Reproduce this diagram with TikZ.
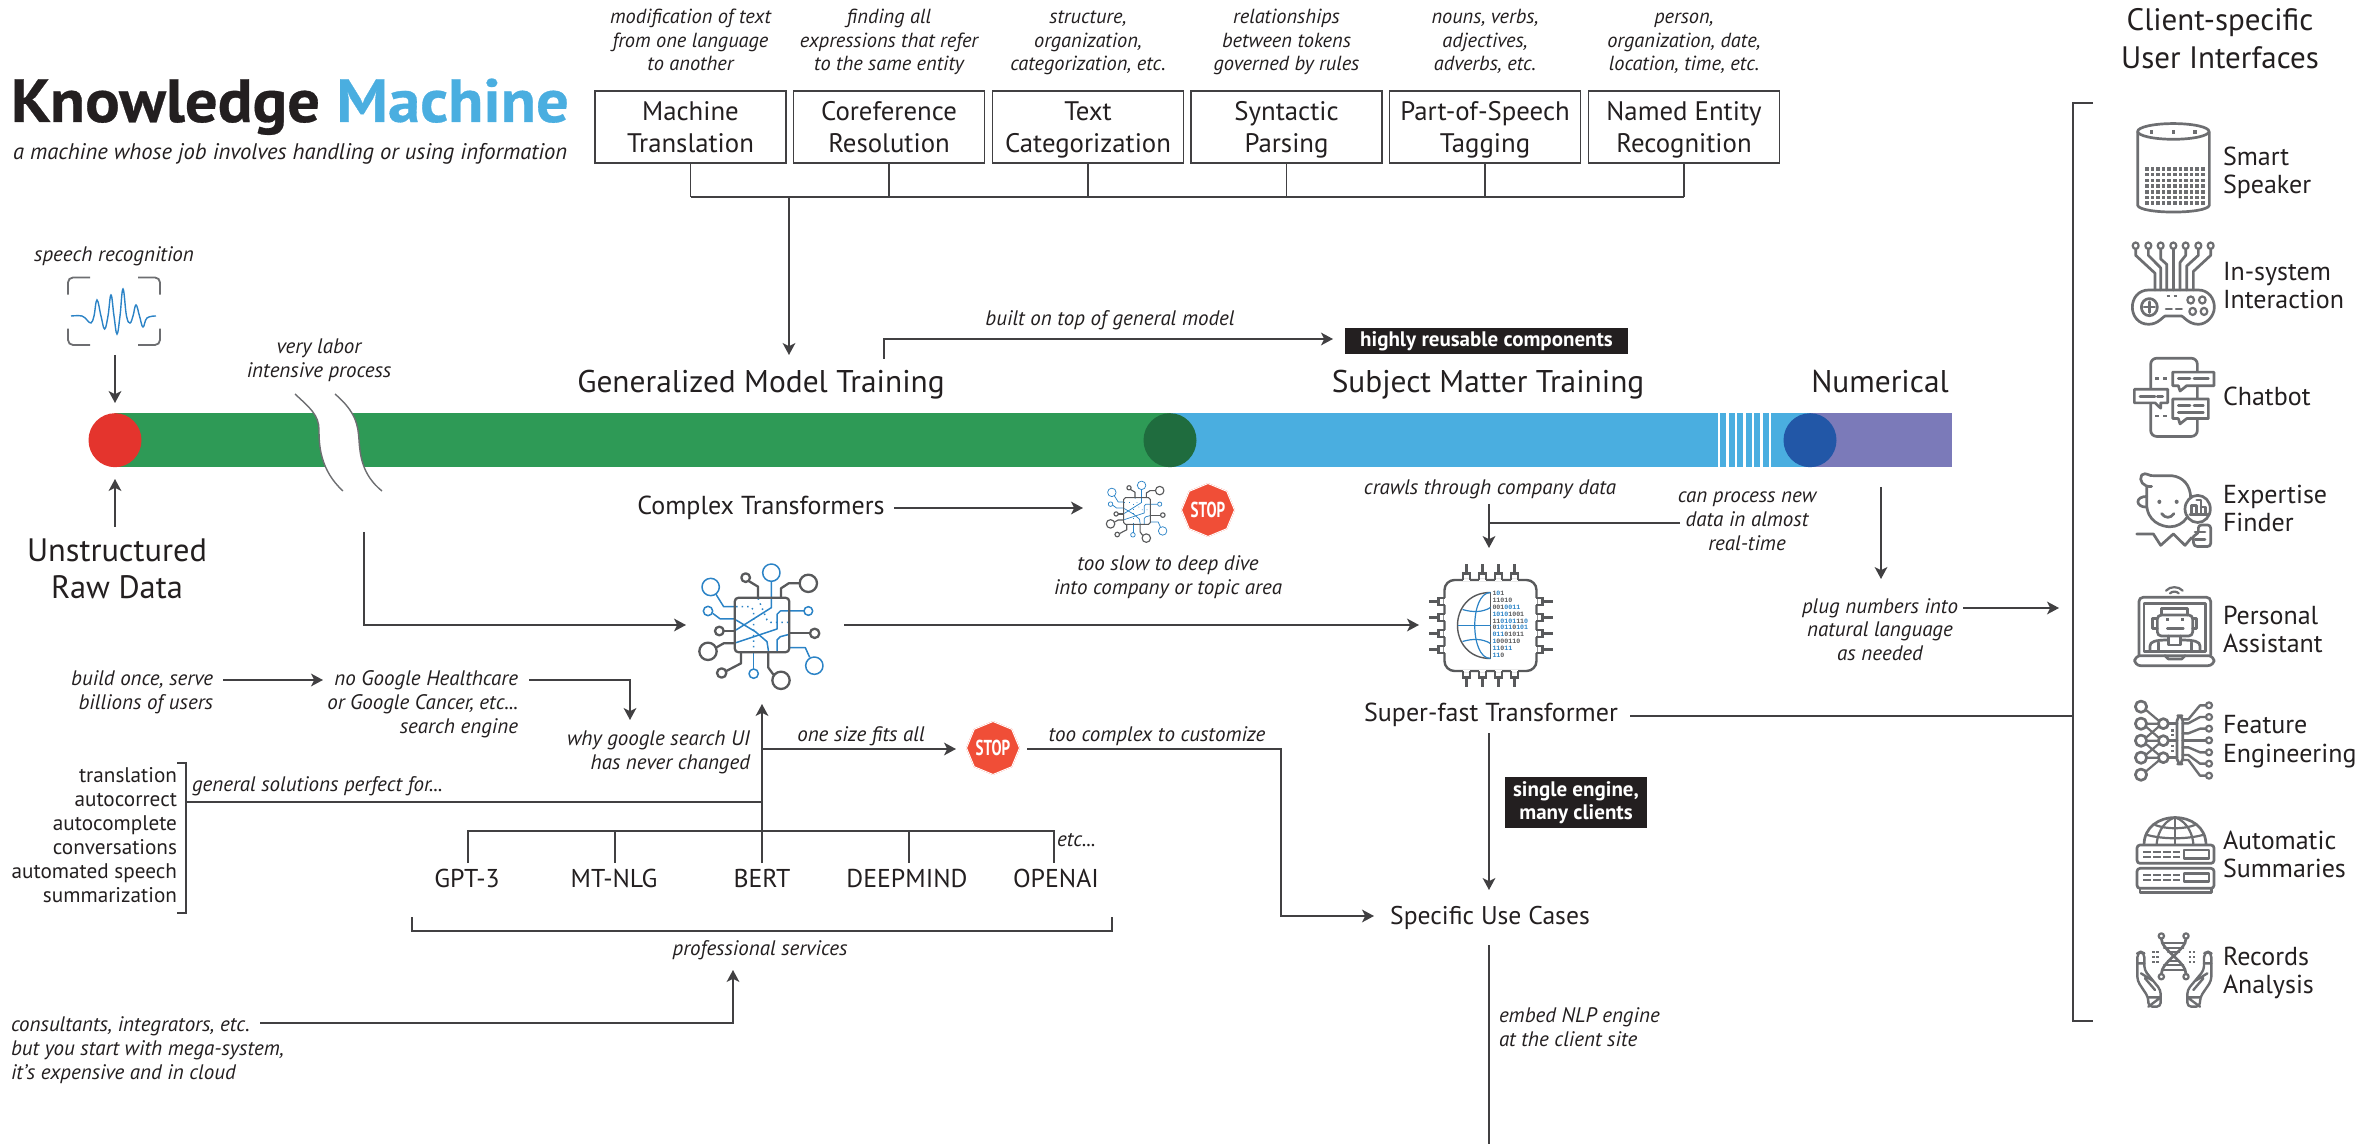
\documentclass[tikz,border=0pt]{standalone}
\usepackage{fontspec}
\usetikzlibrary{arrows.meta,shapes.geometric}
\setmainfont{PT Sans}
\newfontfamily\binfont{Liberation Mono}[BoldFont=* Bold]
\newfontfamily\titlef{PT Sans Bold}[FakeBold=0.5,FakeStretch=1.06]
\newcommand{\bs}{\rule[-2pt]{0pt}{14pt}}
\definecolor{ink}{HTML}{231F20}
\definecolor{linec}{HTML}{414042}
\definecolor{icong}{HTML}{6D6E71}
\definecolor{chipg}{HTML}{58595B}
\definecolor{iconb}{HTML}{2B83C6}
\definecolor{grn}{HTML}{2E9A56}
\definecolor{dgrn}{HTML}{1F6C3E}
\definecolor{sky}{HTML}{4AAEE0}
\definecolor{purp}{HTML}{7B7AB9}
\definecolor{redc}{HTML}{E4342D}
\definecolor{dblue}{HTML}{2257A7}
\definecolor{stopr}{HTML}{F04E37}
\tikzset{
 txt/.style={inner sep=0pt,outer sep=0pt,anchor=base,align=center,text=ink},
 captxt/.style={txt,font=\itshape\fontsize{10.5}{12}\selectfont},
 toptxt/.style={txt,font=\itshape\fontsize{10.2}{11.8}\selectfont},
 capr/.style={captxt,anchor=base east,align=right},
 capl/.style={captxt,anchor=base west,align=left},
 headtxt/.style={txt,font=\fontsize{15.7}{18}\selectfont},
 subtxt/.style={txt,font=\fontsize{16.2}{19}\selectfont},
 modeltxt/.style={txt,font=\fontsize{12.9}{14}\selectfont},
 lst/.style={txt,font=\fontsize{10.6}{12}\selectfont,anchor=base east,align=right},
 uilab/.style={txt,font=\fontsize{13}{14}\selectfont,anchor=base west,align=left},
 topbox/.style={draw=linec,line width=.7pt,minimum width=95.5pt,minimum height=36pt,inner sep=0pt,align=center,text=ink,font=\fontsize{13.4}{16}\selectfont},
 blackbox/.style={fill=ink,text=white,inner sep=0pt,align=center,font=\bfseries\fontsize{10.5}{11.8}\selectfont},
 conn/.style={draw=linec,line width=.75pt},
 arr/.style={conn,-{Stealth[length=6pt,width=6.4pt,inset=1.6pt]}},
 ic/.style={draw=icong,line width=1.35pt,line join=round,line cap=round},
 chipgl/.style={draw=chipg,line join=round},
 chipbl/.style={draw=iconb,line join=round},
 stopo/.style={regular polygon,regular polygon sides=8,shape border rotate=22.5,fill=stopr,minimum size=27pt,inner sep=0pt},
 stopi/.style={regular polygon,regular polygon sides=8,shape border rotate=22.5,draw=white,line width=.5pt,minimum size=25pt,inner sep=0pt,text=white,font=\bfseries\fontsize{9.4}{10}\selectfont},
}
% chip icon drawn in the 3x crop's coordinates about its centre
\newcommand{\chipicon}[3]{%
\begin{scope}[shift={(#1,#2)},x=#3*0.16667pt,y=-#3*0.16667pt,shift={(-310,-250)}]
 \begin{scope}[chipbl,line width=#3*0.75pt]
  \draw (338,93) circle (26); \draw (338,119)--(338,198)--(232,265);
  \draw (156,136) circle (26); \draw (172,158)--(195,195)--(228,195);
  \draw (148,208) circle (14); \draw (162,215)--(185,232)--(228,232);
  \draw (449,208) circle (13); \draw (436,208)--(365,208)--(355,218)--(355,262)--(232,303);
  \draw (467,372) circle (26); \draw (453,347)--(440,318)--(392,318);
  \draw (285,396) circle (14); \draw (285,382)--(285,332);
  \draw (232,235)--(290,270)--(325,300)--(330,332);
  \draw (355,332)--(355,295)--(365,285)--(392,278);
  \draw[dotted] (232,195)--(275,195)--(285,205)--(285,332);
  \draw[dotted] (298,170)--(325,235)--(335,242)--(388,242);
 \end{scope}
 \begin{scope}[chipgl,line width=#3*1.15pt]
  \draw[rounded corners=#3*2pt] (228,168) rectangle (392,332);
  \draw (261,108) circle (13); \draw (270,118)--(298,135)--(298,168);
  \draw (449,125) circle (26); \draw (423,125)--(390,125)--(367,140)--(367,168);
  \draw (182,268) circle (13); \draw (195,268)--(228,268);
  \draw (148,329) circle (26); \draw (172,318)--(195,305)--(228,305);
  \draw (468,275) circle (14); \draw (392,275)--(454,275);
  \draw (189,394) circle (14); \draw (203,388)--(247,365)--(247,332);
  \draw (367,416) circle (26); \draw (345,400)--(329,378)--(329,332);
 \end{scope}
\end{scope}}
\begin{document}
\begin{tikzpicture}[x=0.5pt,y=-0.5pt]
\useasboundingbox (0,0) rectangle (2379,1144);

% title
\node[txt,anchor=base west,font=\titlef\fontsize{30.5}{32}\selectfont] (title) at (11,122) {Knowledge \textcolor{sky}{Machine}};
\node[captxt,anchor=base west,font=\itshape\fontsize{11.3}{12}\selectfont] (subtitle) at (13,160) {a machine whose job involves handling or using information};

% top boxes
\node[topbox] (b1) at (690.5,127) {\bs Machine\\\bs Translation};
\node[topbox] (b2) at (889,127) {\bs Coreference\\\bs Resolution};
\node[topbox] (b3) at (1088,127) {\bs Text\\\bs Categorization};
\node[topbox] (b4) at (1286.5,127) {\bs Syntactic\\\bs Parsing};
\node[topbox] (b5) at (1485,127) {\bs Part-of-Speech\\\bs Tagging};
\node[topbox] (b6) at (1684,127) {\bs Named Entity\\\bs Recognition};
\node[toptxt] (c1) at (690.5,71) {modification of text\\from one language\\to another};
\node[toptxt] (c2) at (889,71) {finding all\\expressions that refer\\to the same entity};
\node[toptxt] (c3) at (1088,71) {structure,\\organization,\\categorization, etc.};
\node[toptxt] (c4) at (1286.5,71) {relationships\\between tokens\\governed by rules};
\node[toptxt] (c5) at (1485,71) {nouns, verbs,\\adjectives,\\adverbs, etc.};
\node[toptxt] (c6) at (1684,71) {person,\\organization, date,\\location, time, etc.};
\coordinate (busl) at (690.5,197);
\coordinate (busr) at (1684,197);
\draw[conn] (busl)--(busr);
\foreach \n in {b1,b2,b3,b4,b5,b6} \draw[conn] (\n.south)--(\n.south |- busl);
\coordinate (busa) at (789,197);
\coordinate (gmtop) at (789,355);
\draw[arr] (busa)--(gmtop);

% bar
\fill[grn] (115,413.5) rectangle (1170,467);
\fill[sky] (1170,413.5) rectangle (1810,467);
\fill[purp] (1810,413.5) rectangle (1952,467);
\fill[white] (295,394) .. controls (310,408) and (319,415) .. (319,430) .. controls (319,445) and (320,470) .. (343,491) -- (382,491) .. controls (362,475) and (360,455) .. (359,440) .. controls (358,425) and (356,412) .. (335,394) -- cycle;
\draw[icong,line width=.7pt] (295,394) .. controls (310,408) and (319,415) .. (319,430) .. controls (319,445) and (320,470) .. (343,491);
\draw[icong,line width=.7pt] (335,394) .. controls (356,412) and (358,425) .. (359,440) .. controls (360,455) and (362,475) .. (382,491);
\foreach \x in {1719,1727.4,1736,1744.4,1753,1761.4,1770} \fill[white] (\x-1.3,413.5) rectangle (\x+1.3,467);
\fill[redc] (115,440.2) ellipse [x radius=26.5,y radius=27];
\fill[dgrn] (1170,440.2) ellipse [x radius=26.5,y radius=27];
\fill[dblue] (1810,440.2) ellipse [x radius=26.5,y radius=27];

% bar headings
\node[headtxt] (gmt) at (761,393) {Generalized Model Training};
\node[headtxt] (smt) at (1488,393) {Subject Matter Training};
\node[headtxt] (num) at (1880,393) {Numerical};
\node[captxt] (builton) at (1110,326) {built on top of general model};
\node[blackbox,minimum width=141.5pt,minimum height=13pt] (reuse) at (1486.5,341) {highly reusable components};
\coordinate (gs) at (884,359);
\coordinate (gk) at (884,339);
\coordinate (ge) at (1333,339);
\draw[arr] (gs)--(gk)--(ge);

% speech
\node[captxt] (speech) at (114,262) {speech recognition};
\begin{scope}[icong,line width=.9pt,rounded corners=2.5pt]
\draw (68,294.6)--(68,277.5)--(90,277.5);
\draw (138,277.5)--(160,277.5)--(160,294.6);
\draw (68,328.6)--(68,345)--(90,345);
\draw (138,345)--(160,345)--(160,328.6);
\end{scope}
\draw[iconb,line width=.7pt] plot[smooth,tension=.7] coordinates {(71,316)(82,316)(87,320)(91,323)(94,316)(97,300)(101,316)(104.6,329)(108,316)(111,295)(114,316)(117,334)(120,316)(123,289)(126.5,316)(130,323)(133,316)(136,305)(139.5,316)(143,327)(147,318)(156,316)};
\coordinate (sa) at (115,355);
\coordinate (sb) at (115,403);
\draw[arr] (sa)--(sb);
\node[subtxt] (raw) at (117,599) {Unstructured\\Raw Data};
\coordinate (ra) at (115,527);
\coordinate (rb) at (115,479);
\draw[arr] (ra)--(rb);
\node[captxt] (labor) at (319,378) {very labor\\intensive process};

% break line to chip
\chipicon{762}{625}{1}
\coordinate (bs) at (364,532);
\coordinate (bk) at (364,625);
\coordinate (be) at (686,625);
\draw[arr] (bs)--(bk)--(be);
\coordinate (cha) at (844,625);
\coordinate (chb) at (1419,625);
\draw[arr] (cha)--(chb);

% complex transformers
\node[txt,font=\fontsize{13}{14}\selectfont] (ct) at (761,515) {Complex Transformers};
\coordinate (cta) at (894,508);
\coordinate (ctb) at (1083,508);
\draw[arr] (cta)--(ctb);
\chipicon{1137}{511}{.49}
\node[stopo] (s1o) at (1208,510) {};
\node[stopi] (s1) at (1208,510) {\scalebox{.8}[1.15]{STOP}};
\node[captxt] (slow) at (1168,595) {too slow to deep dive\\into company or topic area};

% globe chip
\begin{scope}[shift={(1490.5,625.5)}]
 \draw[chipg,line width=1.2pt,rounded corners=5pt] (-46,-45.5) rectangle (46,45.5);
 \foreach \a in {-24,-8,8,24} {
  \fill[white] (\a-3.5,-46.5) rectangle (\a+3.5,-44.5);
  \fill[white] (\a-3.5,44.5) rectangle (\a+3.5,46.5);
  \fill[white] (-46.5,\a-3.5) rectangle (-44.5,\a+3.5);
  \fill[white] (44.5,\a-3.5) rectangle (46.5,\a+3.5);
  \draw[chipg,line width=1.2pt] (\a-3.5,-45.5)--(\a-3.5,-52)--(\a+3.5,-52)--(\a+3.5,-45.5);
  \draw[chipg,line width=1.2pt] (\a,-52)--(\a,-61);
  \draw[chipg,line width=1.2pt] (\a-3.5,45.5)--(\a-3.5,52)--(\a+3.5,52)--(\a+3.5,45.5);
  \draw[chipg,line width=1.2pt] (\a,52)--(\a,61);
  \draw[chipg,line width=1.2pt] (-45.5,\a-3.5)--(-52,\a-3.5)--(-52,\a+3.5)--(-45.5,\a+3.5);
  \draw[chipg,line width=1.2pt] (-52,\a)--(-62,\a);
  \draw[chipg,line width=1.2pt] (45.5,\a-3.5)--(52,\a-3.5)--(52,\a+3.5)--(45.5,\a+3.5);
  \draw[chipg,line width=1.2pt] (52,\a)--(62,\a);
 }
 \draw[chipg,line width=.7pt] (0,-33) .. controls (-44,-33) and (-44,33) .. (0,33);
 \draw[chipg,line width=.7pt] (0,-33)--(0,33);
 \draw[iconb,line width=.6pt] (0,-33) .. controls (-21,-33) and (-21,33) .. (0,33);
 \draw[iconb,line width=.6pt] (-33,0)--(0,0);
 \draw[iconb,line width=.6pt] (-28,-16) .. controls (-18,-13) and (-8,-13) .. (0,-18);
 \draw[iconb,line width=.6pt] (-28,16) .. controls (-18,13) and (-8,13) .. (0,18);
\end{scope}
\node[txt,anchor=north west,align=left,text=chipg,font=\binfont\bfseries\fontsize{3.3}{3.4}\selectfont] (bits) at (1492.5,591.5) {1\textcolor{iconb}{0}1\\11010\\001\textcolor{iconb}{0011}\\\textcolor{iconb}{1010}1001\\11\textcolor{iconb}{0101}11\textcolor{iconb}{0}\\0\textcolor{iconb}{1011}0\textcolor{iconb}{101}\\\textcolor{iconb}{011}01011\\\textcolor{iconb}{1}000110\\\textcolor{iconb}{11}0\textcolor{iconb}{11}\\\textcolor{iconb}{11}0};
\node[txt,font=\fontsize{13}{14}\selectfont] (fast) at (1491,721) {Super-fast Transformer};
\node[captxt] (crawl) at (1490,495) {crawls through company data};
\coordinate (cra) at (1489,504);
\coordinate (crb) at (1489,548);
\draw[arr] (cra)--(crb);
\coordinate (crj) at (1489,523);
\coordinate (cre) at (1680,523);
\draw[conn] (cre)--(crj);
\node[captxt] (newd) at (1747,551) {can process new\\data in almost\\real-time};
\coordinate (na) at (1881,487);
\coordinate (nb) at (1881,579);
\draw[arr] (na)--(nb);
\node[captxt] (plug) at (1880,661) {plug numbers into\\natural language\\as needed};
\coordinate (pa) at (1963,608);
\coordinate (pb) at (2059,608);
\draw[arr] (pa)--(pb);

% right bracket
\coordinate (rt) at (2093,103);
\coordinate (rtk) at (2073,103);
\coordinate (rbk) at (2073,1021);
\coordinate (rbt) at (2093,1021);
\draw[conn,line width=1pt] (rt)--(rtk)--(rbk)--(rbt);
\coordinate (fe) at (1630,716);
\coordinate (fj) at (2073,716);
\draw[conn] (fe)--(fj);

% below fast
\coordinate (fa) at (1489,733);
\coordinate (fb) at (1489,890);
\draw[arr] (fa)--(fb);
\node[blackbox,minimum width=71pt,minimum height=25.5pt] (single) at (1576,802.5) {single engine,\\many clients};
\node[txt,font=\fontsize{12.8}{14}\selectfont] (suc) at (1490,924) {Specific Use Cases};
\coordinate (ea) at (1489,945);
\coordinate (eb) at (1489,1144);
\draw[conn] (ea)--(eb);
\node[capl] (embed) at (1499,1046) {embed NLP engine\\at the client site};

% lower left
\node[capr] (build) at (213,709) {build once, serve\\billions of users};
\coordinate (ba) at (223,680);
\coordinate (bb) at (323,680);
\draw[arr] (ba)--(bb);
\node[capr] (nog) at (518,733) {no Google Healthcare\\or Google Cancer, etc...\\search engine};
\coordinate (ga) at (529,680);
\coordinate (gb) at (630,680);
\coordinate (gc) at (630,720);
\draw[arr] (ga)--(gb)--(gc);
\node[capr] (why) at (750,769) {why google search UI\\has never changed};
\node[lst] (uses) at (177,902) {translation\\autocorrect\\autocomplete\\conversations\\automated speech\\summarization};
\coordinate (u1) at (177,763);
\coordinate (u2) at (186,763);
\coordinate (u3) at (186,913);
\coordinate (u4) at (177,913);
\draw[conn] (u1)--(u2)--(u3)--(u4);
\node[capl] (gen) at (192,791) {general solutions perfect for...};
\coordinate (gl) at (186,802);
\coordinate (gr) at (762,802);
\draw[conn] (gl)--(gr);
\coordinate (ua) at (762,863);
\coordinate (ub) at (762,704);
\draw[arr] (ua)--(ub);

% one size
\coordinate (oa) at (762,749);
\coordinate (ob) at (956,749);
\draw[arr] (oa)--(ob);
\node[captxt] (one) at (861,741) {one size fits all};
\node[stopo] (s2o) at (993,748) {};
\node[stopi] (s2) at (993,748) {\scalebox{.8}[1.15]{STOP}};
\node[captxt] (cust) at (1157,741) {too complex to customize};
\coordinate (ca) at (1027,749);
\coordinate (cb) at (1281,749);
\coordinate (cc) at (1281,916);
\coordinate (cd) at (1374,916);
\draw[arr] (ca)--(cb)--(cc)--(cd);

% models
\node[modeltxt] (m1) at (467,887) {GPT-3};
\node[modeltxt] (m2) at (614,887) {MT-NLG};
\node[modeltxt] (m3) at (762,887) {BERT};
\node[modeltxt] (m4) at (907,887) {DEEPMIND};
\node[modeltxt] (m5) at (1056,887) {OPENAI};
\coordinate (t1) at (468,831);
\coordinate (t2) at (615,831);
\coordinate (t4) at (909,831);
\coordinate (t5) at (1054,831);
\coordinate (d1) at (468,863);
\coordinate (d2) at (615,863);
\coordinate (d4) at (909,863);
\coordinate (d5) at (1054,863);
\draw[conn] (d1)--(t1)--(t5)--(d5);
\draw[conn] (t2)--(d2);
\draw[conn] (t4)--(d4);
\node[capl] (etc) at (1057,846) {etc...};
\coordinate (p1) at (412,917);
\coordinate (p2) at (412,931);
\coordinate (p3) at (1112,931);
\coordinate (p4) at (1112,917);
\draw[conn] (p1)--(p2)--(p3)--(p4);
\node[captxt] (pro) at (760,955) {professional services};
\coordinate (qa) at (260,1023);
\coordinate (qb) at (733,1023);
\coordinate (qc) at (733,970);
\draw[arr] (qa)--(qb)--(qc);
\node[capl] (cons) at (11,1079) {consultants, integrators, etc.\\but you start with mega-system,\\it's expensive and in cloud};

% right column
\node[txt,font=\fontsize{15.5}{19.3}\selectfont] (ui) at (2220,69) {Client-specific\\User Interfaces};
\node[uilab] (l1) at (2223,194) {Smart\\Speaker};
\node[uilab] (l2) at (2223,309) {In-system\\Interaction};
\node[uilab] (l3) at (2223,406) {Chatbot};
\node[uilab] (l4) at (2223,532) {Expertise\\Finder};
\node[uilab] (l5) at (2223,653) {Personal\\Assistant};
\node[uilab] (l6) at (2223,762) {Feature\\Engineering};
\node[uilab] (l7) at (2223,877) {Automatic\\Summaries};
\node[uilab] (l8) at (2223,993) {Records\\Analysis};

% icons, crop A coordinates
\begin{scope}[shift={(2040,0)},x=0.16667pt,y=-0.17857pt]
 % speaker
 \draw[ic] (400,368) ellipse [x radius=107,y radius=22];
 \draw[ic] (293,370)--(293,575) .. controls (300,600) and (500,600) .. (508,575)--(508,370);
 \foreach \x in {335,400,465} \fill[icong] (\x-5,363) rectangle (\x+5,374);
 \foreach \x in {0,...,10} \foreach \y in {0,...,6}
   \fill[icong] (315+\x*16.8,468+\y*16) rectangle ++(11,10);
 % gamepad
 \draw[ic] (326,812)--(475,812) .. controls (505,812) and (523,835) .. (523,860) .. controls (523,885) and (500,908) .. (475,908) .. controls (445,908) and (430,885) .. (425,885)--(375,885) .. controls (370,885) and (355,908) .. (326,908) .. controls (295,908) and (277,885) .. (277,860) .. controls (277,835) and (295,812) .. (326,812);
 \draw[ic] (328,860) circle (24);
 \draw[ic] (312,860)--(344,860) (328,845)--(328,875);
 \foreach \p in {(452,840),(487,840),(458,872),(492,872)} \draw[ic,line width=1.1pt] \p circle (10);
 \draw[ic] (378,865)--(395,865) (408,865)--(425,865);
 \draw[ic,line width=1pt,dash pattern=on 1.5pt off 2pt,line cap=butt] (380,828)--(420,828);
 \foreach \x in {287,325,362,400,437,475,512} \draw[ic,line width=1.1pt] (\x,688) circle (9);
 \draw[ic] (287,697)--(287,715)--(345,765)--(345,812);
 \draw[ic] (325,697)--(325,715)--(362,750)--(362,812);
 \draw[ic] (362,697)--(362,725)--(380,740)--(380,812);
 \draw[ic] (400,697)--(400,812);
 \draw[ic] (437,697)--(437,715)--(420,735)--(420,812);
 \draw[ic] (475,697)--(475,715)--(440,745)--(440,812);
 \draw[ic] (512,697)--(512,715)--(460,760)--(460,812);
 % chatbot
 \draw[ic,rounded corners=3pt] (332,1003) rectangle (472,1222);
 \draw[ic,line width=1.1pt,dash pattern=on 2pt off 2pt,line cap=butt] (345,1060)--(388,1060) (345,1165)--(388,1165);
 \filldraw[ic,fill=white] (398,1042)--(522,1042)--(522,1080)--(440,1080)--(420,1095)--(415,1080)--(398,1080)--cycle;
 \draw[ic] (415,1060)--(450,1060) (462,1060)--(505,1060);
 \filldraw[ic,fill=white] (283,1090)--(383,1090)--(383,1128)--(362,1128)--(362,1143)--(345,1128)--(283,1128)--cycle;
 \draw[ic] (300,1110)--(345,1110) (352,1110)--(368,1110);
 \filldraw[ic,fill=white] (398,1117)--(505,1117)--(505,1172)--(440,1172)--(420,1187)--(415,1172)--(398,1172)--cycle;
 \draw[ic] (415,1135)--(450,1135) (462,1135)--(490,1135) (415,1155)--(490,1155);
 % expert
 \draw[ic] (335,1362) .. controls (310,1365) and (295,1345) .. (305,1330) .. controls (320,1320) and (325,1335) .. (345,1332)--(395,1332) .. controls (430,1335) and (452,1360) .. (452,1395);
 \draw[ic] (320,1365)--(320,1410) .. controls (320,1460) and (365,1475) .. (390,1475) .. controls (410,1475) and (430,1465) .. (440,1450);
 \draw[ic] (320,1390) .. controls (285,1390) and (285,1420) .. (320,1420);
 \fill[icong] (358,1405) circle (6); \fill[icong] (410,1405) circle (6);
 \draw[ic] (365,1438) .. controls (375,1452) and (392,1452) .. (402,1438);
 \filldraw[ic,fill=white] (473,1425) circle (38);
 \draw[ic] (455,1440)--(455,1415)--(470,1415)--(470,1440) (470,1400)--(483,1400)--(483,1440) (483,1420)--(497,1420)--(497,1440) (450,1440)--(502,1440);
 \draw[ic,rounded corners=1.5pt] (475,1470)--(512,1470)--(512,1530)--(462,1530)--(458,1500)--(475,1495)--cycle;
 \draw[ic] (465,1490)--(495,1490) (465,1510)--(495,1510);
 \draw[ic] (290,1495)--(340,1495)--(362,1527)--(400,1495)--(435,1527)--(455,1505);
\end{scope}

\begin{scope}[shift={(2040,560)},x=0.16667pt,y=-0.16667pt]
 % personal assistant
 \draw[ic,line width=1.1pt] (378,92) .. controls (390,78) and (416,78) .. (428,92);
 \draw[ic,line width=1.1pt] (390,100) .. controls (397,93) and (409,93) .. (416,100);
 \draw[ic,rounded corners=2pt] (297,285)--(297,112)--(512,112)--(512,285);
 \draw[ic] (312,275) rectangle (497,130);
 \draw[ic,rounded corners=3pt] (284,287) rectangle (522,317);
 \draw[ic] (375,287)--(385,297)--(425,297)--(435,287);
 \draw[ic,rounded corners=2pt] (352,165) rectangle (458,228);
 \draw[ic] (365,165)--(365,146)--(442,146)--(442,165);
 \draw[ic] (352,175)--(337,175)--(337,205)--(352,205) (458,175)--(470,175)--(470,205)--(458,205);
 \fill[icong] (378,174) rectangle ++(9,9); \fill[icong] (424,174) rectangle ++(9,9);
 \draw[ic] (382,205)--(430,205);
 \draw[ic] (385,228)--(385,245) (422,228)--(422,245);
 \draw[ic] (330,272)--(330,258) .. controls (330,245) and (345,240) .. (385,240);
 \draw[ic] (480,272)--(480,258) .. controls (480,245) and (465,240) .. (422,240);
 \draw[ic] (355,272)--(355,248) (455,272)--(455,248) (385,245)--(385,255)--(422,255)--(422,245);
 % feature engineering
 \foreach \y in {440,491,542,593,644} \draw[ic] (303,\y) circle (17);
 \foreach \y in {491,542,593} \draw[ic] (370,\y) circle (15);
 \draw[ic,line width=1.1pt] (318,450)--(356,482) (320,491)--(355,491) (318,500)--(356,533) (318,533)--(356,500) (320,542)--(355,542) (318,552)--(356,584) (318,584)--(356,552) (320,593)--(355,593) (318,634)--(356,602);
 \draw[ic] (385,491)--(411,491) (385,542)--(411,542) (385,593)--(411,593);
 \draw[ic] (411,488)--(411,598);
 \draw[ic,rounded corners=2.5pt] (411,467) rectangle (428,612);
 \fill[icong] (392,508) rectangle ++(9,7); \fill[icong] (392,522) rectangle ++(9,7); \fill[icong] (392,555) rectangle ++(9,7); \fill[icong] (392,569) rectangle ++(9,7);
 \foreach \y/\z in {436/478,471/490,506/520,541/541,577/562,611/585,647/600} {
  \draw[ic,line width=1.1pt] (507,\y) circle (9);
  \draw[ic,line width=1.2pt] (428,\z)--(445,\z)--(480,\y)--(498,\y);
 }
 % automatic summaries
 \draw[ic] (312,855) .. controls (312,745) and (498,745) .. (498,855);
 \draw[ic,line width=1.1pt] (405,772)--(405,855);
 \draw[ic,line width=1.1pt] (405,772) .. controls (365,785) and (350,830) .. (350,855);
 \draw[ic,line width=1.1pt] (405,772) .. controls (445,785) and (460,830) .. (460,855);
 \draw[ic,line width=1.1pt] (345,795) .. controls (380,808) and (430,808) .. (465,795);
 \draw[ic,line width=1.1pt] (322,825) .. controls (370,838) and (440,838) .. (488,825);
 \filldraw[ic,fill=white,rounded corners=1.5pt] (291,855) rectangle (522,910);
 \filldraw[ic,fill=white,rounded corners=1.5pt] (291,925) rectangle (522,985);
 \draw[ic] (300,985)--(300,997)--(515,997)--(515,985);
 \draw[ic] (432,870) rectangle (507,895);
 \draw[ic] (432,940) rectangle (507,965);
 \foreach \y in {875,890,945,960} \draw[icong,line width=1.1pt,dash pattern=on 4pt off 1pt] (310,\y)--(421,\y);
 % records
 \foreach \p in {(364,1128),(438,1128),(364,1250),(438,1250)} \draw[ic,line width=1.1pt] \p circle (8);
 \draw[ic] (364,1136) .. controls (364,1170) and (438,1205) .. (438,1242);
 \draw[ic] (438,1136) .. controls (438,1170) and (364,1205) .. (364,1242);
 \draw[ic,line width=1.1pt] (366,1150)--(436,1150) (372,1163)--(430,1163) (384,1175)--(418,1175) (384,1203)--(418,1203) (372,1216)--(430,1216) (366,1229)--(436,1229);
 \foreach \x in {340,352,450,462} \foreach \y in {1175,1190,1205} \fill[icong] (\x-3.5,\y-3) rectangle ++(7,7);
 \draw[ic,rounded corners=2pt,line width=1.2pt] (292,1262)--(292,1180)--(302,1175)--(313,1180)--(313,1230)--(362,1290)--(362,1340)--(325,1340)--(325,1312)--cycle;
 \draw[ic,line width=1.2pt] (292,1210)--(313,1210) (303,1240)--(338,1262) (315,1255)--(345,1290) (325,1312)--(362,1312) (325,1340)--(362,1312);
 \draw[ic,rounded corners=2pt,line width=1.2pt] (514,1262)--(514,1180)--(504,1175)--(492,1180)--(492,1230)--(442,1290)--(442,1340)--(480,1340)--(480,1312)--cycle;
 \draw[ic,line width=1.2pt] (492,1210)--(514,1210) (502,1240)--(467,1262) (490,1255)--(460,1290) (442,1312)--(480,1312) (480,1340)--(442,1312);
\end{scope}
\end{tikzpicture}
\end{document}
